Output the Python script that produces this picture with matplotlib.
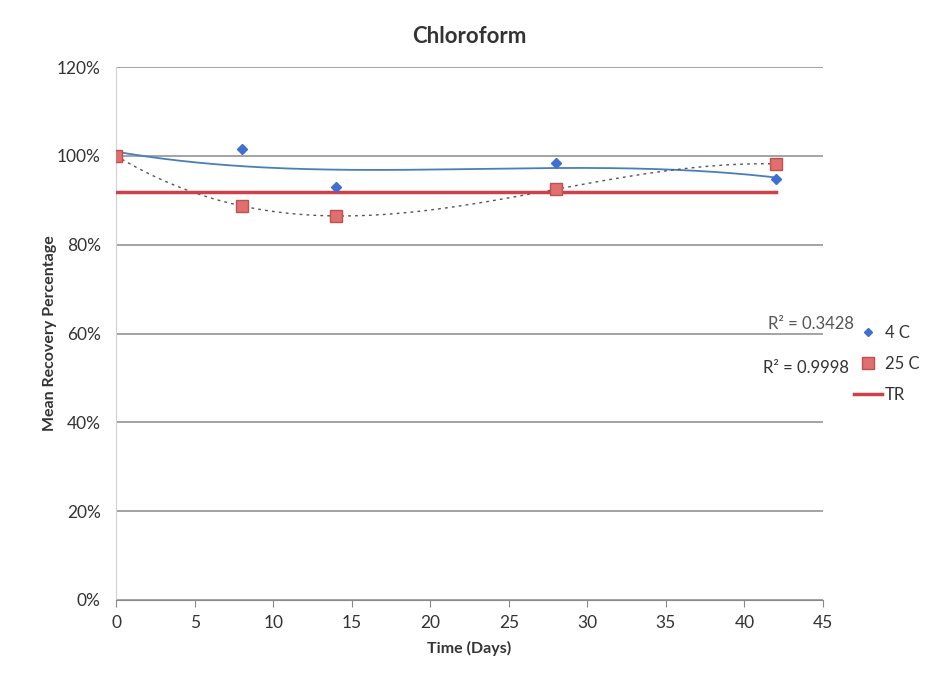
import numpy as np
import matplotlib
matplotlib.use("Agg")
import matplotlib.pyplot as plt
from matplotlib.lines import Line2D
from matplotlib.ticker import FuncFormatter

plt.rcParams['font.family'] = ['Lato', 'DejaVu Sans']

days = [0, 8, 14, 28, 42]
c4 = [100.0, 101.5, 93.1, 98.4, 94.9]
c25 = [100.0, 88.8, 86.4, 92.5, 98.2]
tr = [91.8, 91.8, 91.8, 91.8, 91.8]
r2_labels = ["R\u00b2 = 0.3428", "R\u00b2 = 0.9998"]
xticks = [0, 5, 10, 15, 20, 25, 30, 35, 40, 45]
yticks = [0, 20, 40, 60, 80, 100, 120]

fig = plt.figure(figsize=(9.26, 6.73), dpi=100)
ax = fig.add_axes([0.1253, 0.1085, 0.7635, 0.7919])
ax.set_xlim(0, 45)
ax.set_ylim(0, 120)

for y in yticks:
    ax.axhline(y, color='#8a8a8a', lw=1.1, zorder=0)

# trendlines (polynomial order 3)
xs = np.linspace(0, 42, 200)
p4 = np.polyfit(days, c4, 3)
p25 = np.polyfit(days, c25, 3)
ax.plot(xs, np.polyval(p4, xs), color='#4a7ebb', lw=1.3, zorder=2)
ax.plot(xs, np.polyval(p25, xs), color='#555555', lw=1.0, ls=(0, (2, 3)), zorder=2)

ax.plot(days, tr, color='#d0404a', lw=2.5, zorder=3)
ax.plot(days, c4, ls='none', marker='D', ms=5.5, mfc='#3f6fd0', mec='#3f6fd0', zorder=4)
ax.plot(days, c25, ls='none', marker='s', ms=9, mfc='#e07070', mec='#c0504d', mew=1, zorder=4)

for s in ['top', 'right']:
    ax.spines[s].set_visible(False)
ax.spines['left'].set_color('#d0d0d0')
ax.spines['bottom'].set_color('#8a8a8a')
ax.set_xticks(xticks)
ax.set_yticks(yticks)
ax.yaxis.set_major_formatter(FuncFormatter(lambda v, p: f"{int(v)}%"))
ax.tick_params(axis='x', direction='out', length=5, color='#8a8a8a', labelsize=12.5, labelcolor='#333333', pad=6)
ax.tick_params(axis='y', length=0, labelsize=12.5, labelcolor='#333333', pad=11)

ax.set_title("Chloroform", fontsize=16, fontweight='bold', color='#333333', pad=17)
ax.set_xlabel("Time (Days)", fontsize=11.5, fontweight='bold', color='#333333', labelpad=7)
ax.set_ylabel("Mean Recovery Percentage", fontsize=11.5, fontweight='bold', color='#333333', labelpad=0)

handles = [
    Line2D([], [], ls='none', marker='D', ms=4.5, mfc='#3f6fd0', mec='#3f6fd0'),
    Line2D([], [], ls='none', marker='s', ms=8, mfc='#e07070', mec='#c0504d'),
    Line2D([], [], color='#d0404a', lw=2.5),
]
leg = fig.legend(handles, ["4 C", "25 C", "TR"], loc='upper left',
                 bbox_to_anchor=(0.922, 0.517), frameon=False, fontsize=12,
                 handlelength=1.7, handletextpad=0.15, labelspacing=0.9,
                 borderpad=0, borderaxespad=0)
for t in leg.get_texts():
    t.set_color('#333333')

fig.text(0.922, 0.518, r2_labels[0], ha='right', va='center', fontsize=12, color='#555555')
fig.text(0.917, 0.453, r2_labels[1], ha='right', va='center', fontsize=12, color='#333333')

fig.savefig("out.png", dpi=100)
